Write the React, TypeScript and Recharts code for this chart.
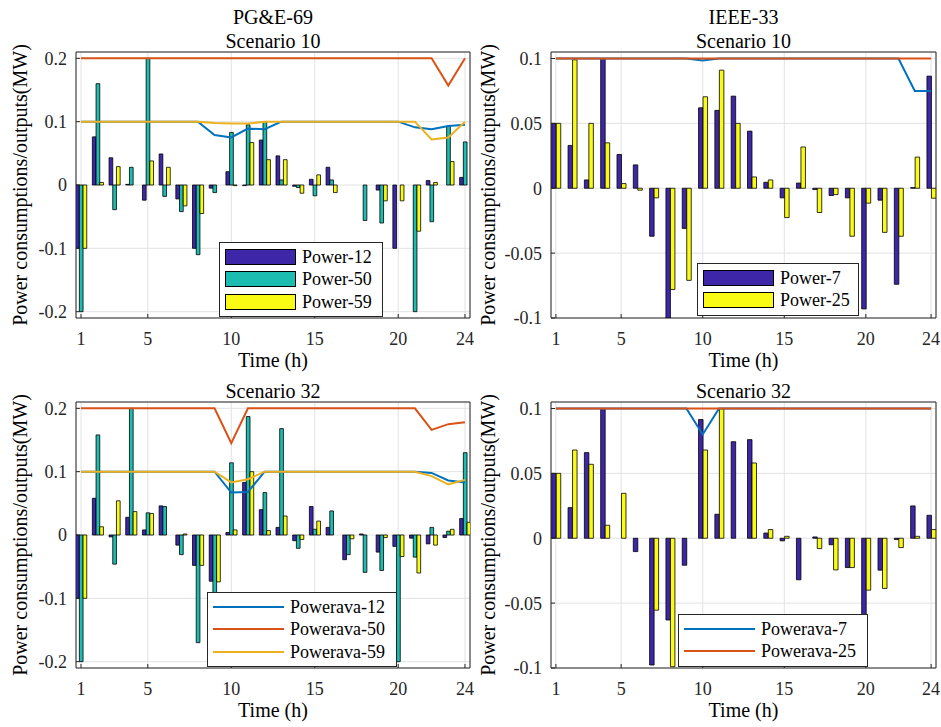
import {
  ComposedChart,
  Bar,
  Line,
  XAxis,
  YAxis,
  CartesianGrid,
  Legend,
  ReferenceArea,
} from "recharts"

const FONT = '"Liberation Serif", "Times New Roman", Times, serif'
const INK = "#262626"

const hours = [1, 2, 3, 4, 5, 6, 7, 8, 9, 10, 11, 12, 13, 14, 15, 16, 17, 18, 19, 20, 21, 22, 23, 24]
const hourTicks = [1, 5, 10, 15, 20, 24]
const pgeTicks = [-0.2, -0.1, 0, 0.1, 0.2]
const ieeeTicks = [-0.1, -0.05, 0, 0.05, 0.1]

// PG&E-69, scenario 10
const pge10Power12 = [-0.1, 0.076, 0.043, 0.001, -0.024, 0.049, -0.022, -0.1, -0.005, 0.021, -0.001, 0.071, 0.046, -0.002, 0.009, 0.028, 0, 0, -0.008, -0.1, 0, 0.007, 0, 0.012]
const pge10Power50 = [-0.2, 0.16, -0.039, 0.028, 0.2, -0.018, -0.042, -0.11, -0.012, 0.083, 0.095, 0.1, 0.008, -0.004, -0.017, 0.008, 0, -0.056, -0.06, 0, -0.2, -0.058, 0.093, 0.068]
const pge10Power59 = [-0.1, 0.004, 0.029, 0, 0.038, 0.028, -0.033, -0.045, 0, -0.001, 0.067, 0.04, 0.04, -0.013, 0.016, -0.012, 0, 0, -0.025, -0.025, -0.073, 0.004, 0.037, 0]
const pge10Avail12 = [0.1, 0.1, 0.1, 0.1, 0.1, 0.1, 0.1, 0.1, 0.079, 0.075, 0.089, 0.088, 0.1, 0.1, 0.1, 0.1, 0.1, 0.1, 0.1, 0.1, 0.091, 0.088, 0.093, 0.095]
const pge10Avail50 = [0.2, 0.2, 0.2, 0.2, 0.2, 0.2, 0.2, 0.2, 0.2, 0.2, 0.2, 0.2, 0.2, 0.2, 0.2, 0.2, 0.2, 0.2, 0.2, 0.2, 0.2, 0.2, 0.157, 0.2]
const pge10Avail59 = [0.1, 0.1, 0.1, 0.1, 0.1, 0.1, 0.1, 0.1, 0.098, 0.097, 0.097, 0.1, 0.1, 0.1, 0.1, 0.1, 0.1, 0.1, 0.1, 0.1, 0.1, 0.072, 0.075, 0.1]

// PG&E-69, scenario 32
const pge32Power12 = [-0.1, 0.058, -0.003, 0.028, 0.008, 0.046, -0.016, -0.048, -0.073, 0.004, 0.083, 0.04, 0.012, -0.009, 0.045, 0.012, -0.039, 0.0016, -0.027, -0.018, -0.005, -0.014, -0.004, 0.026]
const pge32Power50 = [-0.2, 0.158, -0.046, 0.2, 0.035, 0.045, -0.031, -0.17, -0.12, 0.114, 0.187, 0.067, 0.168, -0.021, 0.009, 0.038, -0.031, -0.059, -0.056, -0.2, -0.035, 0.012, 0.006, 0.13]
const pge32Power59 = [-0.1, 0.013, 0.054, 0.037, 0.034, 0, 0.0016, -0.048, -0.074, 0.008, 0.1, 0.007, 0.03, -0.007, 0.022, 0, -0.006, 0, -0.004, -0.034, -0.06, -0.016, 0.009, 0.02]
const pge32Avail12 = [0.1, 0.1, 0.1, 0.1, 0.1, 0.1, 0.1, 0.1, 0.1, 0.067, 0.068, 0.1, 0.1, 0.1, 0.1, 0.1, 0.1, 0.1, 0.1, 0.1, 0.1, 0.098, 0.086, 0.083]
const pge32Avail50 = [0.2, 0.2, 0.2, 0.2, 0.2, 0.2, 0.2, 0.2, 0.2, 0.145, 0.2, 0.2, 0.2, 0.2, 0.2, 0.2, 0.2, 0.2, 0.2, 0.2, 0.2, 0.166, 0.175, 0.178]
const pge32Avail59 = [0.1, 0.1, 0.1, 0.1, 0.1, 0.1, 0.1, 0.1, 0.1, 0.083, 0.088, 0.1, 0.1, 0.1, 0.1, 0.1, 0.1, 0.1, 0.1, 0.1, 0.1, 0.093, 0.08, 0.087]

// IEEE-33, scenario 10
const ieee10Power7 = [0.05, 0.033, 0.0064, 0.1, 0.026, 0.018, -0.037, -0.1, -0.031, 0.062, 0.06, 0.071, 0.044, 0.0046, -0.0074, 0.004, -0.001, -0.0056, -0.0074, -0.093, -0.0092, -0.074, 0.0005, 0.0864]
const ieee10Power25 = [0.05, 0.099, 0.05, 0.035, 0.0036, -0.0015, -0.0074, -0.078, -0.071, 0.0705, 0.091, 0.05, 0.0087, 0.0064, -0.0226, 0.0318, -0.0187, -0.0049, -0.037, -0.0115, -0.034, -0.037, 0.024, -0.0077]
const ieee10Avail7 = [0.1, 0.1, 0.1, 0.1, 0.1, 0.1, 0.1, 0.1, 0.1, 0.0985, 0.1, 0.1, 0.1, 0.1, 0.1, 0.1, 0.1, 0.1, 0.1, 0.1, 0.1, 0.1, 0.075, 0.075]
const ieee10Avail25 = [0.1, 0.1, 0.1, 0.1, 0.1, 0.1, 0.1, 0.1, 0.1, 0.1, 0.1, 0.1, 0.1, 0.1, 0.1, 0.1, 0.1, 0.1, 0.1, 0.1, 0.1, 0.1, 0.1, 0.1]

// IEEE-33, scenario 32
const ieee32Power7 = [0.05, 0.0236, 0.066, 0.1, 0, -0.0103, -0.0977, -0.063, -0.0208, 0.0915, 0.0185, 0.0744, 0.076, 0.004, -0.002, -0.032, 0.001, -0.005, -0.0226, -0.06, -0.0246, -0.001, 0.0249, 0.0177]
const ieee32Power25 = [0.05, 0.068, 0.057, 0.01, 0.0346, 0, -0.0554, -0.099, 0, 0.068, 0.1, 0, 0.058, 0.0067, 0.0015, 0, -0.008, -0.0244, -0.0226, -0.04, -0.0387, -0.0072, 0.0015, 0.0067]
const ieee32Avail7 = [0.1, 0.1, 0.1, 0.1, 0.1, 0.1, 0.1, 0.1, 0.1, 0.08, 0.1, 0.1, 0.1, 0.1, 0.1, 0.1, 0.1, 0.1, 0.1, 0.1, 0.1, 0.1, 0.1, 0.1]
const ieee32Avail25 = [0.1, 0.1, 0.1, 0.1, 0.1, 0.1, 0.1, 0.1, 0.1, 0.1, 0.1, 0.1, 0.1, 0.1, 0.1, 0.1, 0.1, 0.1, 0.1, 0.1, 0.1, 0.1, 0.1, 0.1]

const BAR_BLUE = "#3E26A8"
const BAR_TEAL = "#1CBDB0"
const BAR_YELLOW = "#F9FB15"
const LINE_BLUE = "#0072BD"
const LINE_RED = "#D95319"
const LINE_YELLOW = "#EDB120"

interface Series {
  key: string
  name: string
  color: string
}

const pgeBars: Series[] = [
  { key: "p12", name: "Power-12", color: BAR_BLUE },
  { key: "p50", name: "Power-50", color: BAR_TEAL },
  { key: "p59", name: "Power-59", color: BAR_YELLOW },
]
const pgeLines: Series[] = [
  { key: "a12", name: "Powerava-12", color: LINE_BLUE },
  { key: "a50", name: "Powerava-50", color: LINE_RED },
  { key: "a59", name: "Powerava-59", color: LINE_YELLOW },
]
const ieeeBars: Series[] = [
  { key: "p7", name: "Power-7", color: BAR_BLUE },
  { key: "p25", name: "Power-25", color: BAR_YELLOW },
]
const ieeeLines: Series[] = [
  { key: "a7", name: "Powerava-7", color: LINE_BLUE },
  { key: "a25", name: "Powerava-25", color: LINE_RED },
]

const pge10Rows = hours.map((hour, i) => ({
  hour,
  p12: pge10Power12[i], p50: pge10Power50[i], p59: pge10Power59[i],
  a12: pge10Avail12[i], a50: pge10Avail50[i], a59: pge10Avail59[i],
}))
const pge32Rows = hours.map((hour, i) => ({
  hour,
  p12: pge32Power12[i], p50: pge32Power50[i], p59: pge32Power59[i],
  a12: pge32Avail12[i], a50: pge32Avail50[i], a59: pge32Avail59[i],
}))
const ieee10Rows = hours.map((hour, i) => ({
  hour,
  p7: ieee10Power7[i], p25: ieee10Power25[i],
  a7: ieee10Avail7[i], a25: ieee10Avail25[i],
}))
const ieee32Rows = hours.map((hour, i) => ({
  hour,
  p7: ieee32Power7[i], p25: ieee32Power25[i],
  a7: ieee32Avail7[i], a25: ieee32Avail25[i],
}))

const CHART_H = 380
const X_DOMAIN: [number, number] = [0.7, 24.3]

// legend box in MATLAB style: patches for bars, short strokes for lines
function legendContent(shown: Series[], kind: "bars" | "lines") {
  const order = shown.map((s) => s.key)
  return ({ payload }: any) => {
    const items = (payload ?? [])
      .filter((it: any) => order.includes(String(it.dataKey)))
      .sort((a: any, b: any) => order.indexOf(String(a.dataKey)) - order.indexOf(String(b.dataKey)))
    return (
      <div
        style={{
          background: "#fff",
          border: `1px solid ${INK}`,
          padding: "3px 0",
          boxSizing: "border-box",
          fontFamily: FONT,
          whiteSpace: "nowrap",
        }}
      >
        {items.map((it: any) => (
          <div key={String(it.dataKey)} style={{ display: "flex", alignItems: "center", height: 22.3 }}>
            {kind === "lines" ? (
              <span style={{ marginLeft: 5, width: 71, height: 2, background: it.color, flex: "none" }} />
            ) : (
              <span
                style={{
                  marginLeft: 5,
                  width: 71,
                  height: 16,
                  background: it.color,
                  border: "1px solid #000",
                  boxSizing: "border-box",
                  flex: "none",
                }}
              />
            )}
            <span style={{ marginLeft: 6, fontSize: 18, lineHeight: "18px", color: "#000" }}>{it.value}</span>
          </div>
        ))}
      </div>
    )
  }
}

function yTitle(cx: number) {
  return (props: any) => {
    const vb = props.viewBox ?? {}
    const cy = (vb.y ?? 52) + (vb.height ?? 266) / 2
    return (
      <text
        x={cx}
        y={cy}
        transform={`rotate(-90 ${cx} ${cy})`}
        textAnchor="middle"
        dominantBaseline="central"
        fontSize={20}
        fontFamily={FONT}
        fill="#000"
      >
        Power consumptions/outputs(MW)
      </text>
    )
  }
}

interface PanelProps {
  left: number
  top: number
  width: number
  axisWidth: number
  rightGap: number
  labelX: number
  rows: any[]
  bars: Series[]
  lines: Series[]
  legendFor: "bars" | "lines"
  yDomain: [number, number]
  yTicks: number[]
  barSize: number
  heading?: string
  title: string
  legendBox: { left: number; top: number; width: number }
}

const tickStyle = { fontSize: 18, fill: INK, fontFamily: FONT }

function Panel(p: PanelProps) {
  const plotW = p.width - p.axisWidth - p.rightGap
  const shown = p.legendFor === "bars" ? p.bars : p.lines
  const titleStyle = {
    position: "absolute" as const,
    left: p.axisWidth,
    width: plotW,
    textAlign: "center" as const,
    fontSize: 20,
    lineHeight: "20px",
    color: "#000",
    fontFamily: FONT,
  }
  return (
    <div style={{ position: "absolute", left: p.left, top: p.top, width: p.width, height: CHART_H }}>
      {p.heading && <div style={{ ...titleStyle, top: 7 }}>{p.heading}</div>}
      <div style={{ ...titleStyle, top: 31 }}>{p.title}</div>
      <ComposedChart
        width={p.width}
        height={CHART_H}
        data={p.rows}
        margin={{ top: 52, right: p.rightGap, bottom: 12, left: 0 }}
        barGap={0}
      >
        <CartesianGrid stroke="#e2e2e2" strokeWidth={1} />
        <XAxis
          type="number"
          dataKey="hour"
          domain={X_DOMAIN}
          ticks={hourTicks}
          interval={0}
          allowDataOverflow
          height={50}
          axisLine={false}
          tickLine={{ stroke: INK }}
          tickSize={-4}
          tickMargin={18}
          tick={tickStyle}
          label={{ value: "Time (h)", position: "insideBottom", offset: 1, fontSize: 20, fill: "#000", fontFamily: FONT }}
        />
        <XAxis
          xAxisId="top"
          orientation="top"
          type="number"
          domain={X_DOMAIN}
          ticks={hourTicks}
          interval={0}
          allowDataOverflow
          height={0}
          axisLine={false}
          tick={false}
          tickLine={{ stroke: INK }}
          tickSize={-4}
        />
        <YAxis
          type="number"
          domain={p.yDomain}
          ticks={p.yTicks}
          interval={0}
          allowDataOverflow
          width={p.axisWidth}
          axisLine={false}
          tickLine={{ stroke: INK }}
          tickSize={-4}
          tickMargin={13}
          tick={tickStyle}
          label={yTitle(p.labelX)}
        />
        <YAxis
          yAxisId="right"
          orientation="right"
          type="number"
          domain={p.yDomain}
          ticks={p.yTicks}
          interval={0}
          allowDataOverflow
          width={0}
          axisLine={false}
          tick={false}
          tickLine={{ stroke: INK }}
          tickSize={-4}
        />
        {p.bars.map((s) => (
          <Bar
            key={s.key}
            dataKey={s.key}
            name={s.name}
            fill={s.color}
            stroke="#000"
            strokeWidth={0.8}
            barSize={p.barSize}
            legendType={p.legendFor === "bars" ? "rect" : "none"}
            isAnimationActive={false}
          />
        ))}
        {p.lines.map((s) => (
          <Line
            key={s.key}
            type="linear"
            dataKey={s.key}
            name={s.name}
            stroke={s.color}
            strokeWidth={2}
            dot={false}
            activeDot={false}
            legendType={p.legendFor === "lines" ? "line" : "none"}
            isAnimationActive={false}
          />
        ))}
        <ReferenceArea
          x1={X_DOMAIN[0]}
          x2={X_DOMAIN[1]}
          y1={p.yDomain[0]}
          y2={p.yDomain[1]}
          fill="none"
          fillOpacity={0}
          stroke={INK}
          strokeWidth={1}
          ifOverflow="visible"
        />
        <Legend
          layout="vertical"
          align="center"
          verticalAlign="middle"
          wrapperStyle={{ left: p.legendBox.left, top: p.legendBox.top, width: p.legendBox.width }}
          content={legendContent(shown, p.legendFor)}
        />
      </ComposedChart>
    </div>
  )
}

export default function App() {
  return (
    <div
      style={{
        position: "absolute",
        left: 0,
        top: 0,
        width: 941,
        height: 727,
        background: "#fff",
        fontFamily: FONT,
        overflow: "hidden",
      }}
    >
      <Panel
        left={0}
        top={0}
        width={480}
        axisWidth={76}
        rightGap={10}
        labelX={20}
        rows={pge10Rows}
        bars={pgeBars}
        lines={pgeLines}
        legendFor="bars"
        yDomain={[-0.21, 0.21]}
        yTicks={pgeTicks}
        barSize={3.7}
        heading="PG&E-69"
        title="Scenario 10"
        legendBox={{ left: 219, top: 242, width: 164 }}
      />
      <Panel
        left={470}
        top={0}
        width={471}
        axisWidth={81}
        rightGap={5}
        labelX={18}
        rows={ieee10Rows}
        bars={ieeeBars}
        lines={ieeeLines}
        legendFor="bars"
        yDomain={[-0.1, 0.105]}
        yTicks={ieeeTicks}
        barSize={4.5}
        heading="IEEE-33"
        title="Scenario 10"
        legendBox={{ left: 227, top: 263, width: 162 }}
      />
      <Panel
        left={0}
        top={350}
        width={480}
        axisWidth={76}
        rightGap={10}
        labelX={20}
        rows={pge32Rows}
        bars={pgeBars}
        lines={pgeLines}
        legendFor="lines"
        yDomain={[-0.21, 0.21]}
        yTicks={pgeTicks}
        barSize={3.7}
        title="Scenario 32"
        legendBox={{ left: 207, top: 242, width: 190 }}
      />
      <Panel
        left={470}
        top={350}
        width={471}
        axisWidth={81}
        rightGap={5}
        labelX={18}
        rows={ieee32Rows}
        bars={ieeeBars}
        lines={ieeeLines}
        legendFor="lines"
        yDomain={[-0.1, 0.105]}
        yTicks={ieeeTicks}
        barSize={4.5}
        title="Scenario 32"
        legendBox={{ left: 208, top: 264, width: 190 }}
      />
    </div>
  )
}
